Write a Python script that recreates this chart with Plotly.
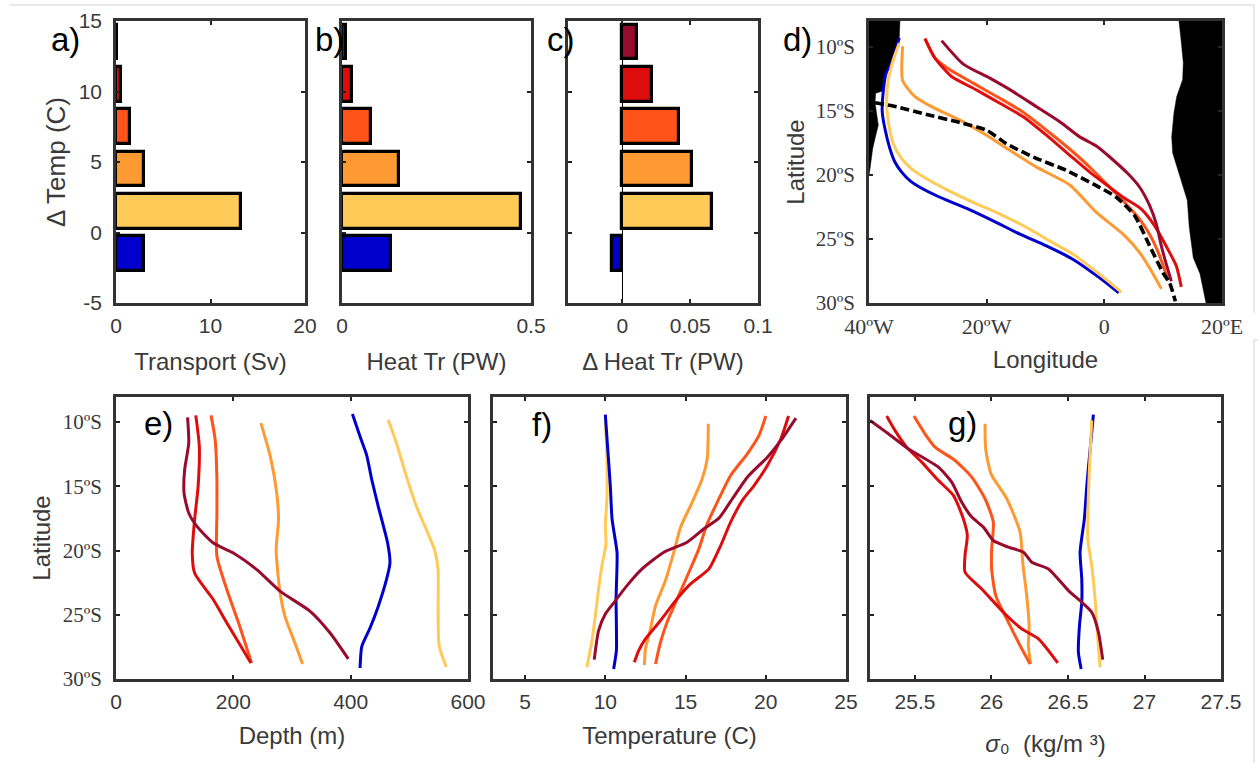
import plotly.graph_objects as go

W, H = 1258, 763

# ---- colours of the six temperature classes
BLUE, YELLOW, ORANGE, ORED, RED, DARK = "#0000cc", "#ffca58", "#ff9a33", "#ff5319", "#dd0d0d", "#980b2c"
BAR_COLORS = [BLUE, YELLOW, ORANGE, ORED, RED, DARK]

# ---- bar panels
delta_temp = [-1.5, 1.5, 4.5, 7.5, 10.5, 13.5]
transport = [2.95, 13.2, 2.95, 1.45, 0.55, 0.1]
heat_tr = [0.13, 0.474, 0.15, 0.078, 0.026, 0.01]
delta_heat = [-0.0075, 0.066, 0.051, 0.042, 0.022, 0.011]

# ---- panel d: pathways
d_blue_lon = [-34.85, -36.15, -37.1, -37.55, -37.75, -37.3, -36.45, -35.6, -34.45, -33.05, -31.35, -27.95, -23.4, -18.9, -14.35, -9.85, -5.3, -0.8, 2.45]
d_blue_lat = [-9.32, -11.28, -12.07, -13.38, -15.08, -16.39, -17.96, -19.0, -19.79, -20.45, -20.97, -21.75, -22.62, -23.59, -24.63, -25.55, -26.6, -28.04, -29.21]
d_yellow_lon = [-34.85, -35.87, -36.72, -37, -36.72, -35.87, -34.45, -32.76, -30.2, -26.8, -22.3, -17.76, -13.2, -9.27, -5.3, -0.78, 2.9]
d_yellow_lat = [-9.71, -11.02, -12.59, -14.29, -15.86, -17.57, -18.74, -19.53, -20.31, -21.15, -22.15, -23.06, -24.11, -25.16, -26.2, -27.77, -29.16]
d_orange_lon = [-34.28, -34.28, -32.19, -28.8, -24.55, -20.02, -16.06, -11.53, -5.87, -1.35, 3.18, 6.01, 8, 9.69]
d_orange_lat = [-9.97, -12.64, -13.9, -14.82, -15.73, -16.91, -18.09, -19.4, -20.79, -22.93, -24.63, -26.07, -27.51, -28.9]
d_ored_lon = [-30.49, -28.79, -26.25, -22.29, -17.76, -14.36, -9.84, -5.31, -1.91, 0.92, 3.18, 6.01, 8, 9.41, 10.82]
d_ored_lat = [-9.37, -10.89, -11.81, -12.85, -14.03, -14.95, -16.52, -18.22, -19.66, -20.97, -22.02, -23.46, -24.9, -26.34, -28.17]
d_red_lon = [-30.49, -28.79, -25.97, -21.72, -17.76, -13.8, -9.84, -5.87, -2.48, 0.92, 3.18, 6.29, 8.56, 11.1, 12.24, 13.08]
d_red_lat = [-9.37, -10.89, -12.33, -13.38, -14.42, -15.47, -16.91, -18.48, -19.79, -20.97, -21.75, -22.67, -23.98, -26.07, -27.12, -28.74]
d_dark_lon = [-27.66, -23.98, -19.46, -15.5, -11.53, -7.57, -4.18, -1.35, 0.92, 4.03, 6.01, 7.71, 8.84, 9.69, 10.54, 11.39]
d_dark_lat = [-9.53, -11.36, -12.46, -13.51, -14.69, -15.86, -17.04, -17.75, -18.61, -19.92, -20.97, -22.41, -23.85, -25.55, -26.99, -28.3]
d_dash_lon = [-38.98, -35.3, -30.21, -24.55, -20.02, -16.63, -12.1, -6.44, -1.91, 2.05, 5.16, 7.71, 9.97, 11.1, 12.07]
d_dash_lat = [-14.37, -14.69, -15.29, -15.92, -16.52, -17.57, -18.61, -19.66, -20.71, -21.75, -23.19, -25.55, -27.64, -28.43, -29.87]

# ---- panel d: land
west_land_lon = [-40, -34.74, -34.85, -36.15, -37.11, -37.57, -37.68, -38.87, -38.98, -38.7, -38.42, -38.98, -39.38, -39.83, -40]
west_land_lat = [-8, -8, -9.32, -11.28, -12.07, -12.85, -13.46, -13.64, -14.35, -15.08, -16.13, -17.17, -17.96, -19.53, -20.05]
east_land_lon = [20, 12.69, 13.03, 13.42, 13.32, 12.3, 11.84, 11.45, 11.62, 12.86, 14.1, 14.44, 15.12, 16.26, 17.28, 20]
east_land_lat = [-8, -8, -9.42, -11.23, -12.56, -13.9, -15.15, -17.04, -18.3, -20.18, -21.99, -24.11, -26.47, -27.72, -30, -30]

# ---- panel e: depth
e_blue_d = [403, 416, 427, 436, 447, 463, 467, 461, 447, 433, 419, 416]
e_blue_lat = [-9.38, -11.12, -12.54, -14.49, -16.56, -19.42, -20.97, -22.27, -24.35, -26.03, -27.46, -29.14]
e_yellow_d = [464, 478, 495, 512, 529, 543, 549, 549, 551, 563]
e_yellow_lat = [-9.82, -11.63, -14.23, -16.56, -18.38, -19.94, -21.49, -24.86, -27.46, -29.07]
e_orange_d = [247, 263, 274, 277, 273, 279, 288, 305, 318]
e_orange_lat = [-10.08, -12.67, -15.53, -17.6, -19.94, -23.05, -25.12, -27.2, -28.83]
e_ored_d = [162, 169, 172, 172, 172, 189, 209, 231]
e_ored_lat = [-9.48, -11.37, -14.49, -17.08, -20.45, -23.05, -25.64, -28.75]
e_red_d = [136, 142, 140, 134, 130, 134, 166, 189, 230]
e_red_lat = [-9.48, -11.89, -15.0, -17.6, -20.19, -21.75, -23.83, -25.64, -28.75]
e_dark_d = [122, 124, 117, 116, 124, 138, 166, 200, 240, 280, 331, 365, 396]
e_dark_lat = [-9.64, -11.63, -13.71, -15.53, -17.08, -18.12, -19.42, -20.19, -21.49, -23.18, -24.73, -26.42, -28.44]

# ---- panel f: temperature
f_blue_t = [10, 10.15, 10.31, 10.42, 10.73, 10.73, 10.67, 10.69, 10.69, 10.52]
f_blue_lat = [-9.43, -12.08, -14.94, -17.53, -20.13, -21.17, -23.77, -25.84, -27.79, -29.22]
f_yellow_t = [10, 10.1, 10.1, 10, 10.04, 9.79, 9.58, 9.38, 9.17, 8.85]
f_yellow_lat = [-9.87, -12.86, -15.97, -18.05, -19.48, -21.17, -22.99, -25.06, -27.01, -29.09]
f_orange_t = [16.42, 16.35, 16.04, 15.42, 14.69, 14.27, 13.75, 13.13, 12.77, 12.5, 12.44]
f_orange_lat = [-10.13, -12.86, -14.42, -16.23, -18.18, -20.13, -22.34, -24.29, -26.36, -27.66, -28.91]
f_ored_t = [20, 19.58, 18.85, 17.81, 16.98, 16.35, 15.83, 15.21, 14.48, 13.85, 13.44, 13.13]
f_ored_lat = [-9.53, -11.04, -12.47, -14.16, -16.23, -17.92, -19.87, -21.69, -23.77, -25.58, -27.14, -28.83]
f_red_t = [21.42, 20.94, 20.1, 19.27, 18.54, 17.81, 17.19, 16.46, 15.31, 14.38, 13.44, 12.5, 12.08, 11.81]
f_red_lat = [-9.53, -11.3, -13.38, -14.94, -16.1, -17.79, -19.61, -21.43, -22.6, -23.9, -25.45, -26.88, -27.79, -28.7]
f_dark_t = [21.88, 20.94, 20.1, 18.85, 17.92, 17.08, 16.15, 15.1, 13.65, 12.29, 11.35, 10.63, 10, 9.58, 9.31]
f_dark_lat = [-9.69, -11.43, -12.73, -14.29, -15.97, -17.48, -18.31, -19.35, -20.13, -21.43, -22.73, -23.9, -24.94, -26.23, -28.49]

# ---- panel g: density
g_blue_s = [26.666, 26.645, 26.623, 26.607, 26.579, 26.59, 26.59, 26.575, 26.568, 26.586]
g_blue_lat = [-9.43, -12.08, -14.94, -17.53, -20.13, -22.21, -24.03, -25.84, -27.92, -29.22]
g_yellow_s = [26.655, 26.645, 26.634, 26.629, 26.655, 26.677, 26.688, 26.71]
g_yellow_lat = [-9.87, -12.34, -15.45, -19.09, -21.17, -23.77, -25.84, -29.09]
g_orange_s = [25.958, 25.962, 25.997, 26.1, 26.187, 26.204, 26.23, 26.246, 26.241, 26.256]
g_orange_lat = [-10.13, -12.08, -14.03, -15.97, -18.57, -20.91, -23.51, -25.84, -27.4, -28.83]
g_ored_s = [25.493, 25.565, 25.631, 25.762, 25.871, 25.958, 26.012, 26.001, 26.001, 26.028, 26.11, 26.187, 26.252]
g_ored_lat = [-9.53, -10.91, -11.95, -12.99, -14.29, -15.97, -17.79, -19.87, -21.43, -23.51, -25.58, -27.4, -28.83]
g_red_s = [25.315, 25.369, 25.445, 25.544, 25.642, 25.751, 25.816, 25.842, 25.827, 25.827, 25.936, 26.089, 26.198, 26.307, 26.433]
g_red_lat = [-9.53, -10.65, -11.95, -13.12, -14.42, -15.71, -17.53, -18.83, -20.39, -21.69, -22.99, -24.94, -26.1, -26.88, -28.75]
g_dark_s = [25.206, 25.326, 25.456, 25.653, 25.74, 25.805, 25.871, 25.947, 26.012, 26.11, 26.209, 26.263, 26.372, 26.503, 26.59, 26.655, 26.699, 26.727]
g_dark_lat = [-9.87, -10.91, -12.08, -13.51, -14.68, -16.23, -17.4, -18.18, -19.22, -19.74, -20.13, -20.91, -21.43, -23.12, -24.03, -24.81, -26.36, -28.49]

lat_ticks = [-10, -15, -20, -25, -30]
lat_labels = ["10ºS", "15ºS", "20ºS", "25ºS", "30ºS"]
lon_ticks = [-40, -20, 0, 20]
lon_labels = ["40ºW", "20ºW", "0", "20ºE"]

SANS = "Liberation Sans"
SERIF = "Liberation Serif"
INK = "#3a3a3a"

fig = go.Figure()

def axis(box, horizontal, rng, ticks, labels=None, title=None, font=SANS, size=21, standoff=None, tsize=24, show=True, tstand=10):
    lo, hi = box
    dom = [lo / W, hi / W] if horizontal else [1 - hi / H, 1 - lo / H]
    if standoff is None:
        standoff = 2 if horizontal else 7
    a = dict(domain=dom, range=rng, tickmode="array", tickvals=ticks, ticktext=labels if labels else [str(t) for t in ticks],
             ticks="inside", ticklen=4, tickwidth=2, tickcolor="#222", showline=True, linecolor="#333", linewidth=2.5,
             mirror="ticks", showgrid=False, zeroline=False, showticklabels=show, automargin=False,
             tickfont=dict(family=font, size=size, color=INK), ticklabelstandoff=standoff)
    if title:
        a["title"] = dict(text=title, font=dict(family=SANS, size=tsize, color=INK), standoff=tstand)
    return a

PANELS = {
    "a": ((116, 305), (21, 303)), "b": ((342, 531), (21, 303)), "c": ((568, 758), (21, 303)), "d": ((869, 1222), (21, 303)),
    "e": ((116, 468), (397, 679)), "f": ((493, 846), (397, 679)), "g": ((870, 1221), (397, 679)),
}

layout = {}
def set_axes(n, xa, ya):
    s = "" if n == 1 else str(n)
    xa["anchor"] = "y" + s
    ya["anchor"] = "x" + s
    layout["xaxis" + s] = xa
    layout["yaxis" + s] = ya

temp_ticks = [-5, 0, 5, 10, 15]
set_axes(1, axis(PANELS["a"][0], True, [0, 20], [0, 10, 20], title="Transport (Sv)", tstand=18),
         axis(PANELS["a"][1], False, [-5, 15], temp_ticks, title="Δ Temp (C)", tsize=26, tstand=6))
set_axes(2, axis(PANELS["b"][0], True, [0, 0.5], [0, 0.5], title="Heat Tr (PW)", tstand=18),
         axis(PANELS["b"][1], False, [-5, 15], temp_ticks, show=False))
set_axes(3, axis(PANELS["c"][0], True, [-0.04, 0.1], [0, 0.05, 0.1], title="Δ Heat Tr (PW)", tstand=18),
         axis(PANELS["c"][1], False, [-5, 15], temp_ticks, show=False))
layout["xaxis3"]["zeroline"] = True
layout["xaxis3"]["zerolinecolor"] = "#000"
layout["xaxis3"]["zerolinewidth"] = 1
set_axes(4, axis(PANELS["d"][0], True, [-40, 20], lon_ticks, labels=lon_labels, font=SERIF, size=22, title="Longitude", tstand=14),
         axis(PANELS["d"][1], False, [-30, -8], lat_ticks, labels=lat_labels, font=SERIF, title="Latitude", tstand=5))
set_axes(5, axis(PANELS["e"][0], True, [0, 600], [0, 200, 400, 600], title="Depth (m)", tstand=16),
         axis(PANELS["e"][1], False, [-30, -8.05], lat_ticks, labels=lat_labels, font=SERIF, title="Latitude", tstand=6))
set_axes(6, axis(PANELS["f"][0], True, [3, 25], [5, 10, 15, 20, 25], title="Temperature (C)", tstand=16),
         axis(PANELS["f"][1], False, [-30, -8.05], lat_ticks, show=False))
set_axes(7, axis(PANELS["g"][0], True, [25.206, 27.5], [25.5, 26, 26.5, 27, 27.5], labels=["25.5", "26", "26.5", "27", "27.5"],
                 title="<i>σ</i>₀  (kg/m ³)", tstand=24),
         axis(PANELS["g"][1], False, [-30, -8.05], lat_ticks, show=False))

def bars(vals, n):
    s = "" if n == 1 else str(n)
    fig.add_trace(go.Bar(x=vals, y=delta_temp, orientation="h", width=2.45, xaxis="x" + s, yaxis="y" + s, showlegend=False,
                         marker=dict(color=BAR_COLORS, line=dict(color="#000", width=3.2))))
bars(transport, 1)
bars(heat_tr, 2)
bars(delta_heat, 3)

for lon, lat in ((west_land_lon, west_land_lat), (east_land_lon, east_land_lat)):
    fig.add_trace(go.Scatter(x=lon, y=lat, xaxis="x4", yaxis="y4", mode="lines", fill="toself", fillcolor="#000",
                             line=dict(color="#000", width=0.5), showlegend=False))

def line(x, y, color, n, width=3, dash=None):
    fig.add_trace(go.Scatter(x=x, y=y, xaxis=f"x{n}", yaxis=f"y{n}", mode="lines", showlegend=False,
                             line=dict(color=color, width=width, dash=dash, shape="spline", smoothing=0.6)))

for x, y, c in ((d_blue_lon, d_blue_lat, BLUE), (d_yellow_lon, d_yellow_lat, YELLOW), (d_orange_lon, d_orange_lat, ORANGE),
                (d_ored_lon, d_ored_lat, ORED), (d_dash_lon, d_dash_lat, None), (d_red_lon, d_red_lat, RED), (d_dark_lon, d_dark_lat, DARK)):
    if c is None:
        line(x, y, "#000", 4, width=3.6, dash="9px,4px")
    else:
        line(x, y, c, 4)

for x, y, c in ((e_blue_d, e_blue_lat, BLUE), (e_yellow_d, e_yellow_lat, YELLOW), (e_orange_d, e_orange_lat, ORANGE),
                (e_ored_d, e_ored_lat, ORED), (e_red_d, e_red_lat, RED), (e_dark_d, e_dark_lat, DARK)):
    line(x, y, c, 5)
for x, y, c in ((f_yellow_t, f_yellow_lat, YELLOW), (f_blue_t, f_blue_lat, BLUE), (f_orange_t, f_orange_lat, ORANGE),
                (f_ored_t, f_ored_lat, ORED), (f_red_t, f_red_lat, RED), (f_dark_t, f_dark_lat, DARK)):
    line(x, y, c, 6)
for x, y, c in ((g_blue_s, g_blue_lat, BLUE), (g_yellow_s, g_yellow_lat, YELLOW), (g_orange_s, g_orange_lat, ORANGE),
                (g_ored_s, g_ored_lat, ORED), (g_red_s, g_red_lat, RED), (g_dark_s, g_dark_lat, DARK)):
    line(x, y, c, 7)

# panel letters: (text, left pixel, centre pixel)
panel_letters = [("a)", 49, 40), ("b)", 313, 40), ("c)", 545, 40), ("d)", 781, 40), ("e)", 142, 423), ("f)", 530, 424), ("g)", 946, 423)]
annotations = [dict(text=t, xref="paper", yref="paper", x=px / W, y=1 - py / H, xanchor="left", yanchor="middle", showarrow=False,
                    font=dict(family=SANS, size=33, color="#000")) for t, px, py in panel_letters]

GREY = "#d4d4d4"
shapes = [dict(type="line", xref="paper", yref="paper", x0=x0 / W, x1=x1 / W, y0=1 - y0 / H, y1=1 - y1 / H, line=dict(color=GREY, width=1))
          for x0, y0, x1, y1 in ((10, 5, 1254, 5), (1254, 5, 1254, 313), (1254, 340, 1258, 340), (1254, 340, 1254, 763))]

fig.update_layout(width=W, height=H, margin=dict(l=0, r=0, t=0, b=0), paper_bgcolor="#fff", plot_bgcolor="#fff",
                  bargap=0, annotations=annotations, shapes=shapes, showlegend=False, **layout)
fig.write_html("out.html", config={"displayModeBar": False},
               post_script="document.body.style.margin='0';document.body.style.overflow='hidden';")
